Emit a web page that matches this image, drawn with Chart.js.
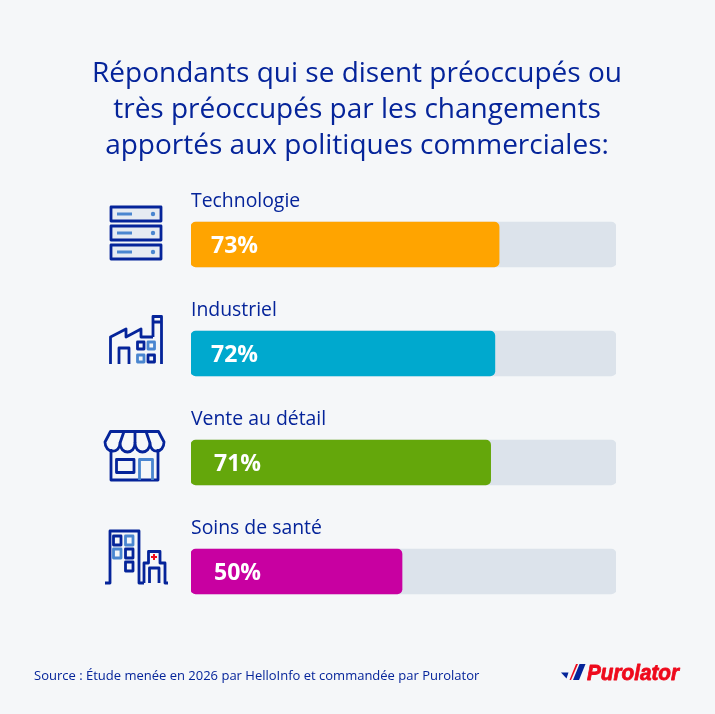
<!DOCTYPE html>
<html lang="fr">
<head>
<meta charset="utf-8">
<title>Préoccupations politiques commerciales</title>
<script src="https://cdn.jsdelivr.net/npm/chart.js@4/dist/chart.umd.min.js"></script>
<style>
  html, body { margin: 0; padding: 0; background: #f5f7f9; }
  #page { position: relative; width: 715px; height: 714px; overflow: hidden; font-family: "Open Sans", sans-serif; color: #05249a; }
  #chart { position: absolute; left: 0; top: 0; }
  h1 { position: absolute; left: 0; top: 53px; width: 714px; margin: 0; text-align: center; font-size: 28px; line-height: 36px; font-weight: 400; }
  #source { position: absolute; left: 34px; top: 666px; font-size: 13px; line-height: 18px; }
  svg { position: absolute; left: 0; top: 0; }
</style>
</head>
<body>
<div id="page">
  <canvas id="chart" width="715" height="714"></canvas>
  <h1>Répondants qui se disent préoccupés ou<br>très préoccupés par les changements<br>apportés aux politiques commerciales:</h1>
  <div id="source">Source : Étude menée en 2026 par HelloInfo et commandée par Purolator</div>

  <svg width="715" height="714" fill="none" stroke-width="2.8" stroke-linejoin="round">
    <!-- serveurs -->
    <g stroke="#05249a">
      <rect x="111" y="207" width="50" height="14" fill="#e6ebf2"/>
      <rect x="111" y="226" width="50" height="14" fill="#e6ebf2"/>
      <rect x="111" y="245" width="50" height="14" fill="#e6ebf2"/>
    </g>
    <g stroke="#4a86d0">
      <path d="M117 214H132M117 233H132M117 252H132"/>
    </g>
    <g fill="#4a86d0">
      <circle cx="153" cy="214" r="2.2"/><circle cx="153" cy="233" r="2.2"/><circle cx="153" cy="252" r="2.2"/>
    </g>

    <!-- usine -->
    <g stroke="#05249a">
      <path d="M110.5 364V337L126 329V337L141 329V337H153"/>
      <path d="M153 337V316.5H161.5V364M153 322H161.5"/>
      <path d="M119 364V348H129V364"/>
      <rect x="137.5" y="342" width="6.5" height="7"/>
      <rect x="148" y="355" width="6.5" height="7"/>
    </g>
    <g stroke="#4a86d0">
      <rect x="148" y="342" width="6.5" height="7"/>
      <rect x="137.5" y="355" width="6.5" height="7"/>
    </g>

    <!-- magasin -->
    <g stroke="#05249a">
      <path d="M110.5 431.5H158.5L164 442C164 454 150 454 150 443C150 455 135 455 135 443C135 455 120 455 120 443C120 454 105 454 105 442Z"/>
      <path d="M120 443L124 431.5M135 443V431.5M150 443L146 431.5"/>
      <path d="M111 449V480H158V449"/>
      <rect x="116.5" y="459.5" width="17.5" height="13"/>
    </g>
    <path stroke="#4a86d0" d="M139.5 480V459.5H152.5V480"/>

    <!-- hôpital -->
    <g stroke="#05249a">
      <path d="M105 583H110V531H139V583H144M144 583V563H148.5V551.5H160V563H165V583H168"/>
      <path d="M149.5 583V568H159V583"/>
      <rect x="113.5" y="536" width="7.5" height="9"/>
      <rect x="125.5" y="549" width="7.5" height="9"/>
      <rect x="125.5" y="562" width="7.5" height="9"/>
    </g>
    <g stroke="#4a86d0">
      <rect x="125.5" y="536" width="7.5" height="9"/>
      <rect x="113.5" y="549" width="7.5" height="9"/>
    </g>
    <path stroke="#ee0a1c" stroke-width="2" d="M154 554V560M151 557H157"/>

    <!-- logo -->
    <path fill="#05249a" d="M561 672.5H568.5L566.5 678.5Z"/>
    <path fill="#ee0a1c" d="M576 664H578L571 680H569.5Z"/>
    <path fill="#05249a" d="M579.5 664H585.5L579 680H573Z"/>
    <text x="587" y="680" textLength="92" lengthAdjust="spacingAndGlyphs" fill="#ee0a1c" stroke="#ee0a1c" stroke-width="0.8" font-family="Liberation Sans" font-size="22" font-weight="700" font-style="italic">Purolator</text>
  </svg>
</div>

<script>
const categories = ["Technologie", "Industriel", "Vente au détail", "Soins de santé"];
const values = [73, 72, 71, 50];
const barColors = ["#ffa400", "#00a9ce", "#64a70b", "#c800a1"];

// axis runs a touch past 100 so the tracks fill the plot width
const axisMax = 100.7;
const trackValues = [axisMax, axisMax, axisMax, axisMax];

// distance from the bar start to the percentage text
const valueInsets = [20, 20, 23, 23];

const inkColor = "#05249a";

// Category names above the bars, percentages inside them
const barTextPlugin = {
  id: "barText",
  afterDatasetsDraw(chart) {
    const { ctx, scales } = chart;
    const left = scales.x.getPixelForValue(0);
    ctx.save();
    ctx.textBaseline = "middle";
    ctx.textAlign = "left";
    categories.forEach((name, i) => {
      const y = scales.y.getPixelForValue(i);
      ctx.fillStyle = inkColor;
      ctx.font = '19.4px "Open Sans"';
      ctx.fillText(name, left, y - 43);
      ctx.fillStyle = "#ffffff";
      ctx.font = 'bold 23px "Open Sans"';
      ctx.fillText(values[i] + "%", left + valueInsets[i], y + 2);
    });
    ctx.restore();
  },
};

new Chart(document.getElementById("chart").getContext("2d"), {
  type: "bar",
  data: {
    labels: categories,
    datasets: [
      {
        data: values,
        backgroundColor: barColors,
        borderRadius: 5,
        borderSkipped: false,
        barThickness: 45,
        grouped: false,
        order: 1,
      },
      {
        data: trackValues,
        backgroundColor: "#dce3eb",
        borderRadius: 5,
        borderSkipped: false,
        barThickness: 45,
        grouped: false,
        order: 2,
      },
    ],
  },
  options: {
    indexAxis: "y",
    responsive: false,
    animation: false,
    layout: { padding: { left: 191, right: 99, top: 190, bottom: 88 } },
    plugins: { legend: { display: false }, tooltip: { enabled: false } },
    scales: {
      x: { display: false, min: 0, max: axisMax },
      y: { display: false },
    },
  },
  plugins: [barTextPlugin],
});
</script>
</body>
</html>
